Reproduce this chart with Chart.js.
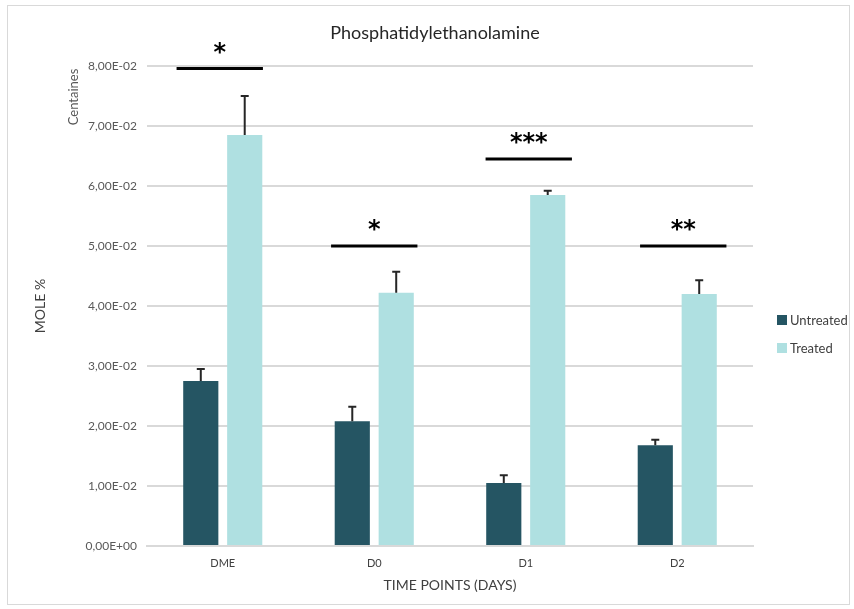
<!DOCTYPE html>
<html>
<head>
<meta charset="utf-8">
<script src="https://cdn.jsdelivr.net/npm/chart.js@4.4.1/dist/chart.umd.min.js"></script>
<style>
  body { margin: 0; background: #fff; font-family: Lato, "Open Sans", sans-serif; }
  #wrap { position: absolute; left: 7px; top: 5px; width: 843px; height: 600px; border: 1px solid #d9d9d9; box-sizing: border-box; }
  #title { position: absolute; left: 235px; width: 400px; top: 21px; text-align: center; font-size: 18px; color: #262626; }
  #legend { position: absolute; left: 777px; top: 306px; font-size: 13px; color: #404040; }
  .item { display: flex; align-items: center; height: 28px; }
  .sw { width: 10px; height: 10px; margin-right: 3px; }
</style>
</head>
<body>
<div id="wrap"><canvas id="myChart" width="843" height="600"></canvas></div>
<div id="title">Phosphatidylethanolamine</div>
<div id="legend">
  <div class="item"><span class="sw" style="background:#255563"></span>Untreated</div>
  <div class="item"><span class="sw" style="background:#afe0e1"></span>Treated</div>
</div>
<script>
const labels = ['DME', 'D0', 'D1', 'D2'];
const untreated = [0.0275, 0.0208, 0.0105, 0.0168];
const untreatedErr = [0.0020, 0.0024, 0.0013, 0.0009];
const treated = [0.0685, 0.0422, 0.0585, 0.0420];
const treatedErr = [0.0065, 0.0035, 0.0007, 0.0023];
const sigLevels = [0.0796, 0.0500, 0.0645, 0.0500];
const sigMarks = ['*', '*', '***', '**'];

const extras = {
    id: 'extras',
    afterDatasetsDraw(chart) {
        const c = chart.ctx;
        const x = chart.scales.x;
        const y = chart.scales.y;
        // error bars (upper only)
        c.save();
        c.strokeStyle = '#262626';
        c.lineWidth = 2;
        [[0, untreated, untreatedErr], [1, treated, treatedErr]].forEach(([di, vals, errs]) => {
            chart.getDatasetMeta(di).data.forEach((bar, i) => {
                const top = y.getPixelForValue(vals[i] + errs[i]);
                c.beginPath();
                c.moveTo(bar.x, bar.y);
                c.lineTo(bar.x, top);
                c.moveTo(bar.x - 4, top);
                c.lineTo(bar.x + 4, top);
                c.stroke();
            });
        });
        // significance lines
        const step = x.getPixelForValue(1) - x.getPixelForValue(0);
        const half = step * 0.285;
        c.lineWidth = 3;
        c.strokeStyle = '#000';
        c.fillStyle = '#000';
        c.font = 'bold 24px "DejaVu Sans"';
        c.textAlign = 'center';
        c.textBaseline = 'middle';
        sigLevels.forEach((lvl, i) => {
            const cx = x.getPixelForValue(i) + (i - 1) * 3;
            const py = y.getPixelForValue(lvl);
            c.beginPath();
            c.moveTo(cx - half, py);
            c.lineTo(cx + half, py);
            c.stroke();
            c.fillText(sigMarks[i], cx, py - 15);
        });
        // "Centaines" label
        c.font = '13px Lato';
        c.fillStyle = '#595959';
        c.translate(66, 91);
        c.rotate(-Math.PI / 2);
        c.fillText('Centaines', 0, 0);
        c.restore();
    }
};

const ctx = document.getElementById('myChart').getContext('2d');
const myChart = new Chart(ctx, {
    type: 'bar',
    data: {
        labels: labels,
        datasets: [{
            label: 'Untreated',
            data: untreated,
            backgroundColor: '#255563'
        }, {
            label: 'Treated',
            data: treated,
            backgroundColor: '#afe0e1'
        }]
    },
    options: {
        responsive: false,
        animation: false,
        categoryPercentage: 0.58,
        barPercentage: 0.8,
        layout: { padding: { left: 20, right: 98, top: 60, bottom: 0 } },
        plugins: {
            legend: { display: false },
            tooltip: { enabled: false },
            title: { display: false }
        },
        scales: {
            x: {
                grid: { display: false, drawTicks: false },
                border: { color: '#d9d9d9', width: 2 },
                ticks: { color: '#404040', font: { family: 'Lato', size: 11 }, padding: 11 },
                title: {
                    display: true,
                    text: 'TIME POINTS (DAYS)',
                    color: '#404040',
                    font: { family: 'Lato', size: 14 },
                    padding: { top: 4, bottom: 12 }
                },
                afterFit(scale) { scale.height = 60; }
            },
            y: {
                min: 0,
                max: 0.08,
                grid: { color: '#d9d9d9', lineWidth: 2, drawTicks: false },
                border: { display: false },
                ticks: {
                    stepSize: 0.01,
                    padding: 10,
                    color: '#595959',
                    font: { family: 'Lato', size: 12 },
                    callback: v => v === 0 ? '0,00E+00' : v.toExponential(2).replace('.', ',').replace(/e-(\d)$/, 'E-0$1').toUpperCase()
                },
                title: {
                    display: true,
                    text: 'MOLE %',
                    color: '#404040',
                    font: { family: 'Lato', size: 14 },
                    padding: 4
                },
                afterFit(scale) { scale.width = 119; }
            }
        }
    },
    plugins: [extras]
});
</script>
</body>
</html>
